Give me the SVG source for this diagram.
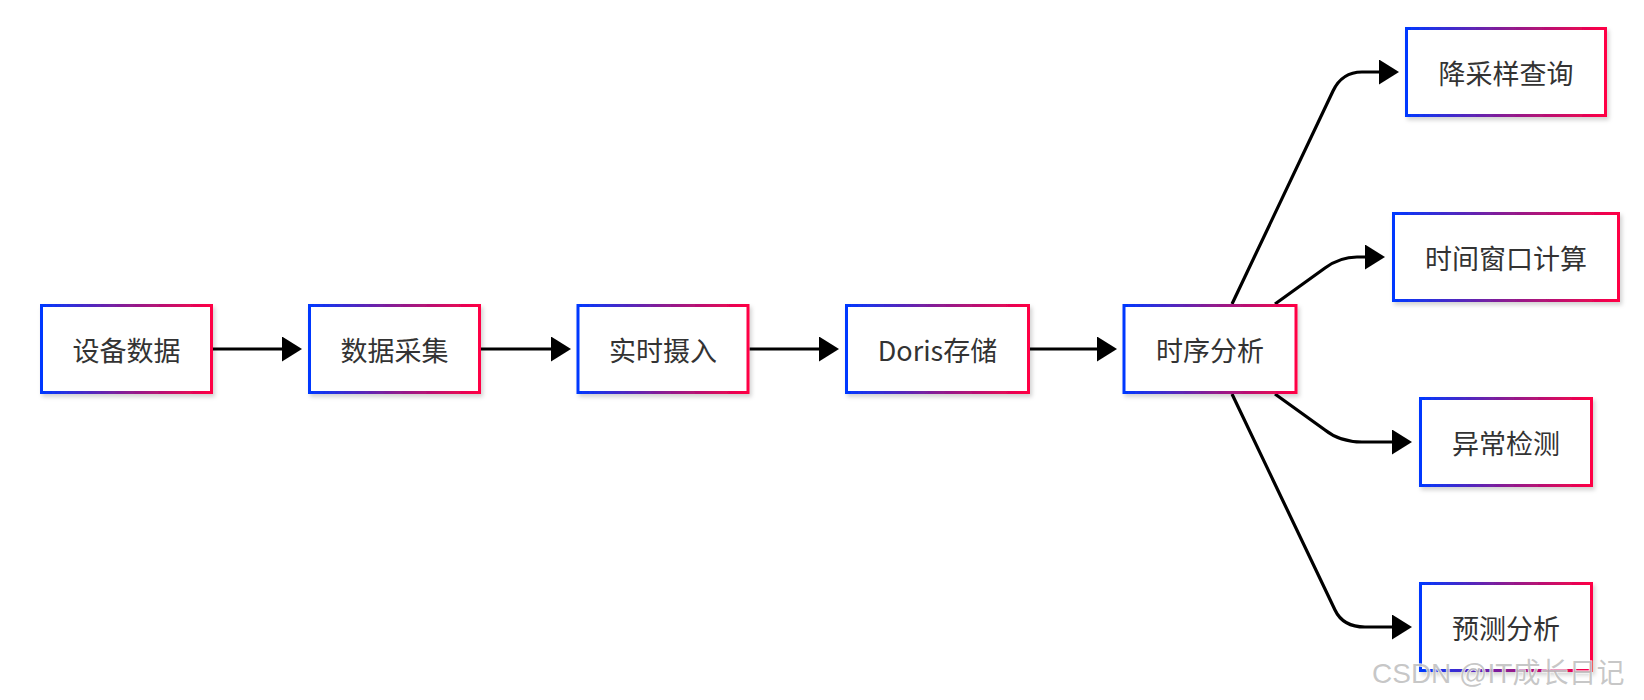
<svg xmlns="http://www.w3.org/2000/svg" width="1644" height="700" viewBox="0 0 1644 700">
<defs>
<linearGradient id="g" x1="0" y1="0" x2="1" y2="0">
<stop offset="0" stop-color="#0038ff"/>
<stop offset="0.5" stop-color="#8a1c92"/>
<stop offset="1" stop-color="#ff0044"/>
</linearGradient>
<filter id="sh" x="-10%" y="-10%" width="125%" height="130%">
<feDropShadow dx="2" dy="3" stdDeviation="2" flood-color="#000" flood-opacity="0.18"/>
</filter>
<marker id="ah" markerUnits="userSpaceOnUse" markerWidth="20" markerHeight="25" viewBox="0 0 20 25" refX="0" refY="12.5" orient="auto">
<path d="M0,0 L20,12.5 L0,25 z" fill="#000"/>
</marker>
</defs>
<style>
.box{fill:#fff;stroke:url(#g);stroke-width:3;filter:url(#sh)}
.lbl{font-family:"Noto Sans CJK SC","Noto Sans",sans-serif;font-size:27px;fill:#333;text-anchor:middle;dominant-baseline:central}
.edge{fill:none;stroke:#000;stroke-width:3.2;marker-end:url(#ah)}
.wm{font-family:"Liberation Sans","Noto Sans CJK SC",sans-serif;font-size:28px;fill:#bdbdbd;fill-opacity:0.85;stroke:#fff;stroke-width:1;paint-order:stroke}
</style>
<rect width="1644" height="700" fill="#fff"/>
<g id="edges">
<path class="edge" d="M213,349 L282,349"/>
<path class="edge" d="M481,349 L551,349"/>
<path class="edge" d="M749.5,349 L819,349"/>
<path class="edge" d="M1030,349 L1097,349"/>
<path class="edge" d="M1232,304 L1333,91 Q1342,72 1362,72 L1379,72"/>
<path class="edge" d="M1275,304 L1325,268 Q1340,257 1357,257 L1365,257"/>
<path class="edge" d="M1275,394 L1325,430 Q1340,442 1362,442 L1392,442"/>
<path class="edge" d="M1232,394 L1335,610 Q1343,627 1365,627 L1392,627"/>
</g>
<g id="n1"><rect class="box" x="41.5" y="305.5" width="170" height="87"/><text class="lbl" x="126.5" y="349">设备数据</text></g>
<g id="n2"><rect class="box" x="309.5" y="305.5" width="170" height="87"/><text class="lbl" x="394.5" y="349">数据采集</text></g>
<g id="n3"><rect class="box" x="578" y="305.5" width="170" height="87"/><text class="lbl" x="663" y="349">实时摄入</text></g>
<g id="n4"><rect class="box" x="846.5" y="305.5" width="182" height="87"/><text class="lbl" x="937.5" y="349">Doris存储</text></g>
<g id="n5"><rect class="box" x="1124" y="305.5" width="172" height="87"/><text class="lbl" x="1210" y="349">时序分析</text></g>
<g id="n6"><rect class="box" x="1406.5" y="28.5" width="199" height="87"/><text class="lbl" x="1506" y="72">降采样查询</text></g>
<g id="n7"><rect class="box" x="1393.5" y="213.5" width="225" height="87"/><text class="lbl" x="1506" y="257">时间窗口计算</text></g>
<g id="n8"><rect class="box" x="1420.5" y="398.5" width="171" height="87"/><text class="lbl" x="1506" y="442">异常检测</text></g>
<g id="n9"><rect class="box" x="1420.5" y="583.5" width="171" height="87"/><text class="lbl" x="1506" y="627">预测分析</text></g>
<text class="wm" x="1372" y="683">CSDN @IT成长日记</text>
</svg>
